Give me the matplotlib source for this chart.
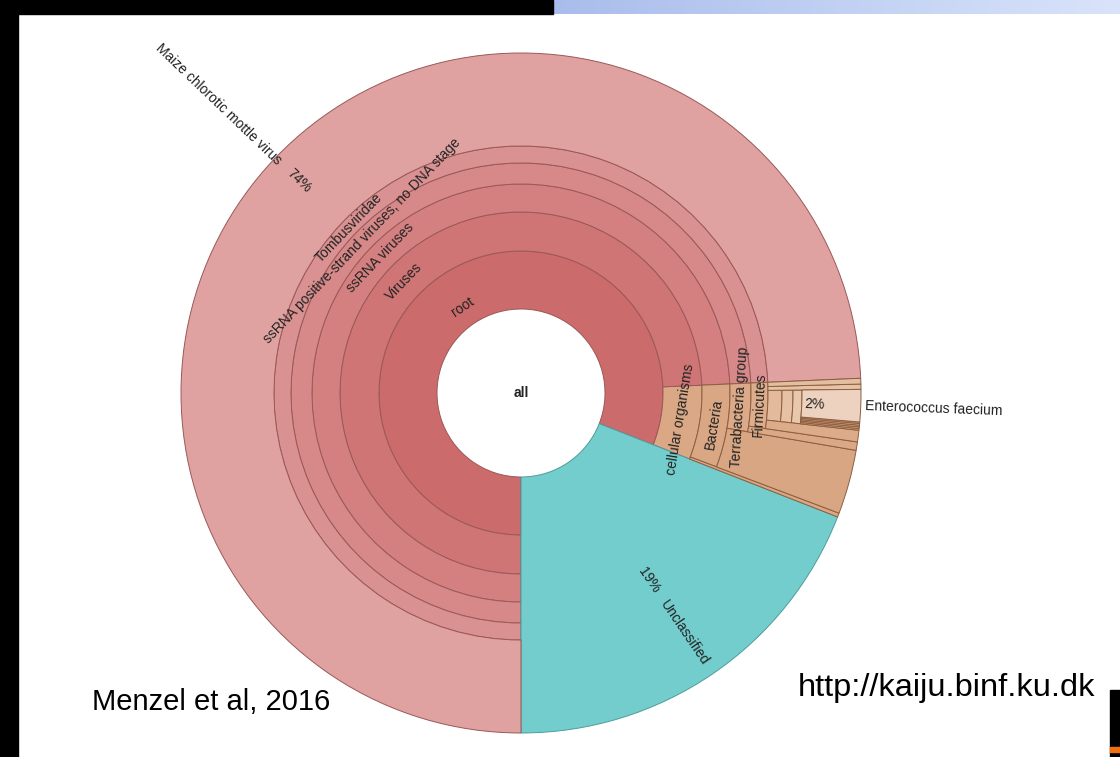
import numpy as np
import matplotlib.pyplot as plt
from matplotlib.colors import LinearSegmentedColormap

plt.rcParams['font.family'] = ['Liberation Sans', 'DejaVu Sans']

# Krona chart of read classification (share of the whole circle, in %)
names = ["Unclassified", "root", "cellular organisms", "Viruses",
         "ssRNA viruses", "ssRNA positive-strand viruses, no DNA stage",
         "Tombusviridae", "Maize chlorotic mottle virus",
         "other cellular organisms", "Bacteria", "other Bacteria",
         "Terrabacteria group", "other Terrabacteria", "Firmicutes",
         "other Firmicutes", "Bacilli", "minor A", "minor B",
         "Lactobacillales", "Enterococcaceae",
         "Enterococcus sp. 1", "Enterococcus sp. 2", "Enterococcus sp. 3",
         "Enterococcus sp. 4", "Enterococcus sp. 5", "Enterococcus faecium"]
depth = [0, 0, 1, 1,
         2, 3,
         4, 5,
         2, 2, 3,
         3, 4, 4,
         5, 5, 5, 5,
         6, 7,
         8, 8, 8,
         8, 8, 8]
start = [0.0, 19.06, 19.06, 25.69,
         25.69, 25.69,
         25.69, 25.69,
         19.06, 19.25, 19.25,
         22.30, 22.30, 22.70,
         22.70, 23.25, 25.17, 25.42,
         23.25, 23.25,
         23.25, 23.33, 23.41,
         23.49, 23.57, 23.64]
size = [19.06, 80.94, 6.63, 74.31,
        74.31, 74.31,
        74.31, 74.31,
        0.19, 6.44, 3.05,
        3.39, 0.40, 2.99,
        0.55, 1.92, 0.25, 0.27,
        1.92, 1.92,
        0.08, 0.08, 0.08,
        0.08, 0.07, 1.53]
leaf = [True, False, False, False,
        False, False,
        False, True,
        True, False, True,
        False, True, False,
        True, False, True, True,
        False, False,
        True, True, True,
        True, True, True]

colors = ["#73CDCD", "#CC6B6B", "#DBA886", "#D07575",
          "#D48080", "#D78989",
          "#DA9191", "#E0A1A1",
          "#D9A784", "#DAA785", "#D9A683",
          "#DCAA88", "#DBA886", "#DEAE8C",
          "#DCAB89", "#E3BA9B", "#E6C3A6", "#E4BEA0",
          "#E6C1A4", "#E8C7AC",
          "#D6A684", "#D8AA88", "#D6A684",
          "#D8AA88", "#D6A684", "#EDD3BF"]
edges = ["#4F9C9C"] + ["#9A5858"] * 7 + ["#8C5E3E"] * 18

ring_labels = ["root", "Viruses", "ssRNA viruses",
               "ssRNA positive-strand viruses, no DNA stage", "Tombusviridae",
               "cellular organisms", "Bacteria", "Terrabacteria group", "Firmicutes"]
leaf_labels = ["Maize chlorotic mottle virus", "Enterococcus faecium", "Unclassified"]

# ring radii in pixels (layout)
RING = [84, 142, 181, 209, 230, 247, 261, 272, 281, 340]
W, H = 1120, 757
cx, cy, R = 521, 393, 340


def main():
    fig = plt.figure(figsize=(W / 100, H / 100), dpi=100)
    bg = fig.add_axes([0, 0, 1, 1])
    bg.set_xlim(0, W)
    bg.set_ylim(H, 0)
    bg.axis('off')

    # slide frame pieces
    bg.add_patch(plt.Rectangle((0, 0), 553, 14, color='black'))
    bg.add_patch(plt.Rectangle((0, 0), 18, H, color='black'))
    bg.add_patch(plt.Rectangle((1110, 690), 10, H - 690, color='black'))
    bg.add_patch(plt.Rectangle((1110, 747), 10, 5, color='#F07010'))
    cmap = LinearSegmentedColormap.from_list('bar', ['#A9BDEC', '#D9E4FA'])
    bg.imshow(np.linspace(0, 1, 256)[None, :], extent=[553, W, 14, 0],
              aspect='auto', cmap=cmap)

    ax = fig.add_axes([(cx - R) / W, (H - cy - R) / H, 2 * R / W, 2 * R / H],
                      projection='polar')
    ax.set_theta_zero_location('S')
    ax.set_ylim(0, R)
    ax.axis('off')

    order = sorted(range(len(names)), key=lambda i: (leaf[i], depth[i]))
    for i in order:
        r0 = RING[depth[i]]
        r1 = R if leaf[i] else RING[depth[i] + 1]
        b = ax.bar(np.deg2rad(start[i] * 3.6), r1 - r0, width=np.deg2rad(size[i] * 3.6),
                   bottom=r0, align='edge', color=colors[i], edgecolor=edges[i],
                   linewidth=0.7)
        for p in b:
            p.set_clip_on(False)

    def mid(i):
        pct = start[i] + size[i] / 2
        return pct, -90 + pct * 3.6

    for lab in ring_labels:
        i = names.index(lab)
        pct, phi = mid(i)
        rot = phi - 90 if np.sin(np.deg2rad(phi)) > 0 else phi + 90
        r = (RING[depth[i]] + RING[depth[i] + 1]) / 2
        if lab == "root":
            r = 104
        ax.text(np.deg2rad(pct * 3.6), r, lab, fontsize=10, color='#222222',
                rotation=rot, rotation_mode='anchor', ha='center', va='center')

    for lab in leaf_labels:
        i = names.index(lab)
        pct, phi = mid(i)
        th = np.deg2rad(pct * 3.6)
        share = f"{size[i]:.0f}%"
        if lab == "Unclassified":
            ax.text(th, 227, share, fontsize=10, color='#222222', rotation=phi,
                    rotation_mode='anchor', ha='center', va='center')
            ax.text(th, 290, lab, fontsize=10, color='#222222', rotation=phi,
                    rotation_mode='anchor', ha='center', va='center')
        elif np.cos(np.deg2rad(phi)) < 0:
            ax.text(th, 307, share, fontsize=10, color='#222222', rotation=phi - 180,
                    rotation_mode='anchor', ha='center', va='center')
            ax.text(th, 334, lab, fontsize=10, color='#222222', rotation=phi - 180,
                    rotation_mode='anchor', ha='right', va='center')
        else:
            ax.text(th, 294, share, fontsize=10, color='#222222', rotation=phi,
                    rotation_mode='anchor', ha='center', va='center')
            ax.text(th, 344, lab, fontsize=10, color='#222222', rotation=phi,
                    rotation_mode='anchor', ha='left', va='center')

    ax.text(0, 0, "all", fontsize=10, weight='bold', color='#222222',
            ha='center', va='center')

    bg.text(92, 702, "Menzel et al, 2016", fontsize=21, ha='left', va='center')
    bg.text(798, 688, "http://kaiju.binf.ku.dk", fontsize=23.4, ha='left', va='center')

    fig.savefig("out.png", dpi=100)


if __name__ == "__main__":
    main()
